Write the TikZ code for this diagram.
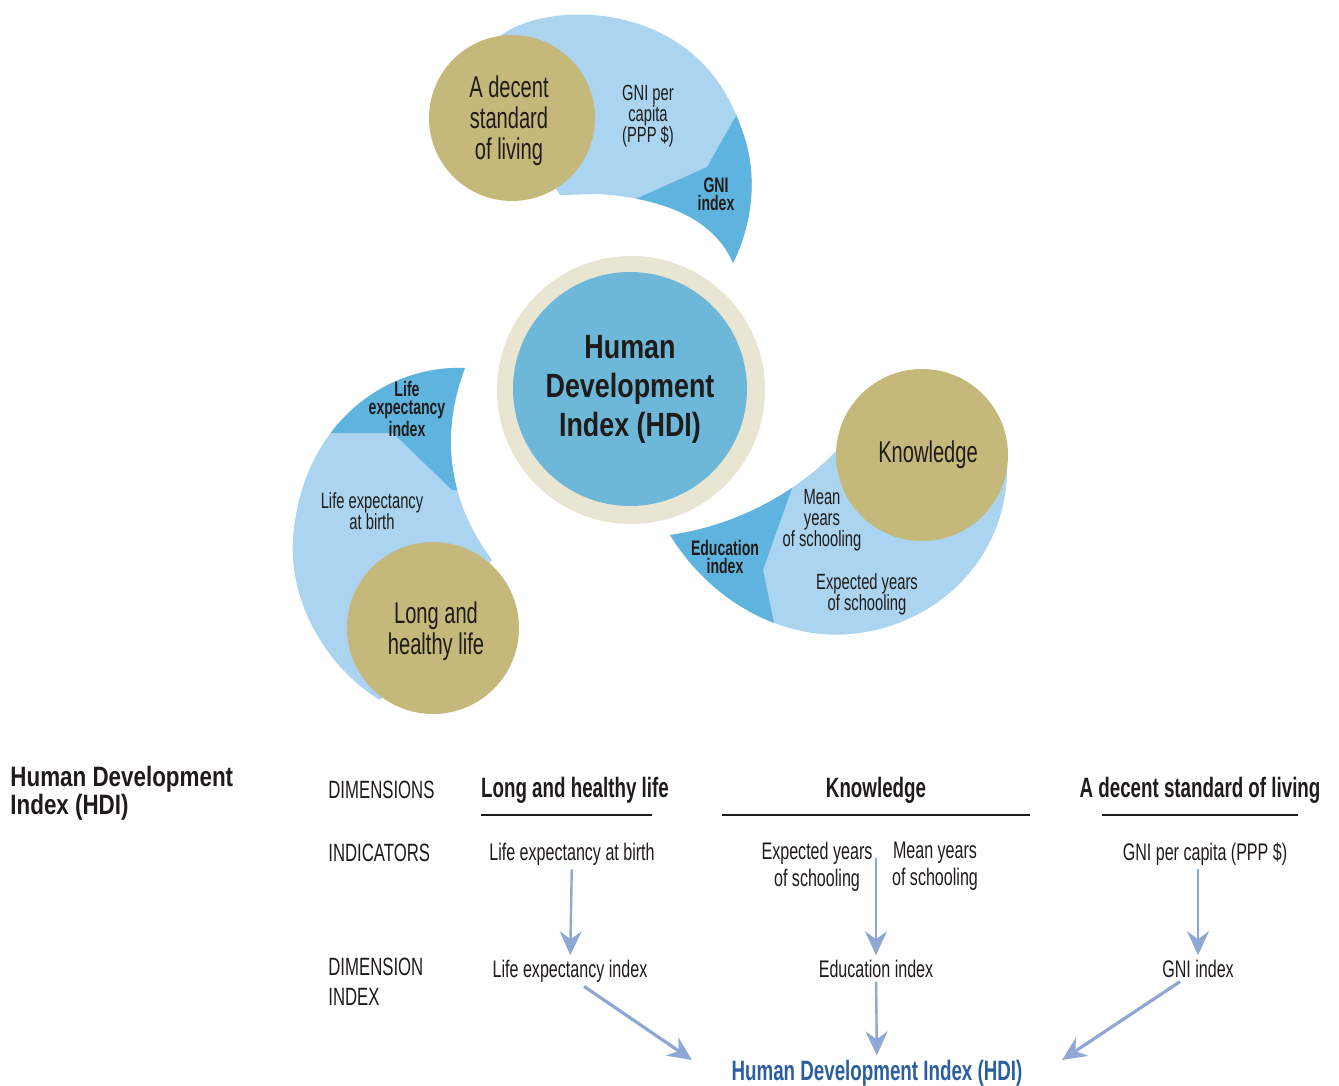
\documentclass[tikz,border=0pt]{standalone}
\usepackage{fontspec}
\setmainfont{Liberation Sans}[FakeStretch=0.67]
\newfontfamily\semicond{Liberation Sans}[FakeStretch=0.8]
\usetikzlibrary{arrows.meta,positioning}

\definecolor{swirllight}{HTML}{AAD4EF}
\definecolor{swirldeep}{HTML}{5FB4DF}
\definecolor{gold}{HTML}{C4B97A}
\definecolor{hubblue}{HTML}{6DB8D9}
\definecolor{hubring}{HTML}{E8E5D2}
\definecolor{ink}{HTML}{1F1B18}
\definecolor{arrowblue}{HTML}{8EA7D4}
\definecolor{hdiblue}{HTML}{2B5E9F}

\tikzset{
  dimball/.style={circle, fill=gold, inner sep=0pt},
  dimtext/.style={align=center, text=ink, inner sep=0pt, font=\fontsize{15}{15.5}\selectfont},
  swirlnote/.style={align=center, text=ink, inner sep=0pt, font=\fontsize{11}{10.5}\selectfont},
  swirlbold/.style={align=center, text=ink, inner sep=0pt, font=\bfseries\fontsize{10.5}{9.2}\selectfont},
  rowlabel/.style={anchor=base west, inner sep=0pt, text=ink, font=\fontsize{12.5}{15}\selectfont},
  colhead/.style={anchor=base, inner sep=2pt, text=ink, font=\bfseries\fontsize{14}{16}\selectfont},
  indic/.style={anchor=base, inner sep=2pt, text=ink, font=\fontsize{12}{13.5}\selectfont},
  headrule/.style={draw=ink, line width=0.7pt},
  indexarrow/.style={draw=arrowblue, line width=1.2pt,
    -{Stealth[length=12pt,width=11pt,inset=4pt]}},
}

% outlines of the three swirls (pixel coordinates, y downwards)
\def\toppath{(512,118) -- (498,38) .. controls (540,0) and (695,-5) .. (740,125)
  .. controls (760,173) and (752,225) .. (733,263)
  .. controls (718,228) and (680,200) .. (600,194) -- (560,195) -- cycle}
\def\leftpath{(433,628) -- (380,700) .. controls (330,670) and (289,606) .. (293,540)
  .. controls (300,430) and (380,365) .. (465,368)
  .. controls (445,420) and (440,490) .. (492,560) -- cycle}
\def\rightpath{(922,455) -- (1007,462) .. controls (1010,560) and (934,627) .. (850,634)
  .. controls (780,640) and (710,600) .. (670,535)
  .. controls (740,525) and (800,490) .. (840,447) -- cycle}

\begin{document}
\begin{tikzpicture}[x=0.5pt, y=-0.5pt]
  \useasboundingbox (0,0) rectangle (1339,1086);

  %-----------------------------
  % the three swirls
  \fill[swirllight] \toppath;
  \begin{scope}
    \clip \toppath;
    \fill[swirldeep] (745,100) -- (707,167) -- (620,206) -- (620,320) -- (800,320) -- (800,100) -- cycle;
  \end{scope}

  \fill[swirllight] \leftpath;
  \begin{scope}
    \clip \leftpath;
    \fill[swirldeep] (250,433) -- (393,433) -- (452,490) -- (560,490) -- (560,300) -- (250,300) -- cycle;
  \end{scope}

  \fill[swirllight] \rightpath;
  \begin{scope}
    \clip \rightpath;
    \fill[swirldeep] (797,474) -- (763,570) -- (790,700) -- (600,700) -- (600,450) -- cycle;
  \end{scope}

  % dimension circles
  \node[dimball, minimum size=83pt] (living) at (512,118) {};
  \node[dimball, minimum size=86pt] (health) at (433,628) {};
  \node[dimball, minimum size=86pt] (knowledge) at (922,455) {};
  \node[dimtext] (livingtxt) at (509,121) {A decent\\standard\\of living};
  \node[dimtext] (healthtxt) at (436,631) {Long and\\healthy life};
  \node[dimtext] (knowtxt) at (928,455) {Knowledge};

  % the hub
  \node[circle, fill=hubring, minimum size=134pt, inner sep=0pt] (hubring) at (631,390) {};
  \node[circle, fill=hubblue, minimum size=117pt, inner sep=0pt, align=center, text=ink,
        font=\semicond\bfseries\fontsize{16.8}{19.5}\selectfont] (hub) at (630,389)
        {Human\\Development\\Index (HDI)};

  % labels inside the swirls
  \node[swirlnote] (gnipcnote) at (648,116) {GNI per\\capita\\(PPP \$)};
  \node[swirlbold] (gninote) at (716,194) {GNI\\index};
  \node[swirlbold] (lifenote) at (407,409) {Life\\expectancy\\index};
  \node[swirlnote] (birthnote) at (372,511) {Life expectancy\\at birth};
  \node[swirlnote] (meannote) at (822,520) {Mean\\years\\of schooling};
  \node[swirlbold] (edunote) at (725,557) {Education\\index};
  \node[swirlnote] (expnote) at (867,594) {Expected years\\of schooling};

  %-----------------------------
  % the table below
  \node[anchor=north west, inner sep=0pt, align=left, text=ink,
        font=\semicond\bfseries\fontsize{14}{14}\selectfont] (hdihead) at (10,766)
        {Human Development\\Index (HDI)};

  \node[rowlabel] (dims) at (328,798) {DIMENSIONS};
  \node[rowlabel] (inds) at (328,861) {INDICATORS};
  \node[rowlabel, anchor=north west, align=left] (dimidx) at (328,958) {DIMENSION\\INDEX};

  \node[colhead] (lhl) at (575,797) {Long and healthy life};
  \node[colhead] (know) at (876,797) {Knowledge};
  \node[colhead] (dsl) at (1200,797) {A decent standard of living};
  \draw[headrule] (481,815) -- (652,815);
  \draw[headrule] (722,815) -- (1030,815);
  \draw[headrule] (1102,815) -- (1298,815);

  \node[indic] (lifebirth) at (572,860) {Life expectancy at birth};
  \node[indic, anchor=north, inner sep=0pt, align=center] (expyears) at (817,842) {Expected years\\of schooling};
  \node[indic, anchor=north, inner sep=0pt, align=center] (meanyears) at (935,842) {Mean years\\of schooling};
  \node[indic] (gnipc) at (1205,860) {GNI per capita (PPP \$)};

  \node[indic] (lifeidx) at (570,977) {Life expectancy index};
  \node[indic] (eduidx) at (876,977) {Education index};
  \node[indic] (gniidx) at (1198,977) {GNI index};

  \node[anchor=base, inner sep=2pt, text=hdiblue, font=\bfseries\fontsize{14}{16}\selectfont]
       (hdi) at (877,1080) {Human Development Index (HDI)};

  % arrows
  \coordinate (knowtop) at (876,858);
  \coordinate (hdileft) at (692,1060);
  \coordinate (hdiright) at (1062,1060);
  \draw[indexarrow] (lifebirth) -- (lifeidx);
  \draw[indexarrow] (knowtop) -- (eduidx.north);
  \draw[indexarrow] (gnipc.south -| gniidx.north) -- (gniidx.north);
  \draw[indexarrow] (eduidx) -- (hdi);
  \draw[indexarrow, line width=1.6pt] ([xshift=7pt]lifeidx.south) -- (hdileft);
  \draw[indexarrow, line width=1.6pt] ([xshift=-9pt]gniidx.south) -- (hdiright);
\end{tikzpicture}
\end{document}
